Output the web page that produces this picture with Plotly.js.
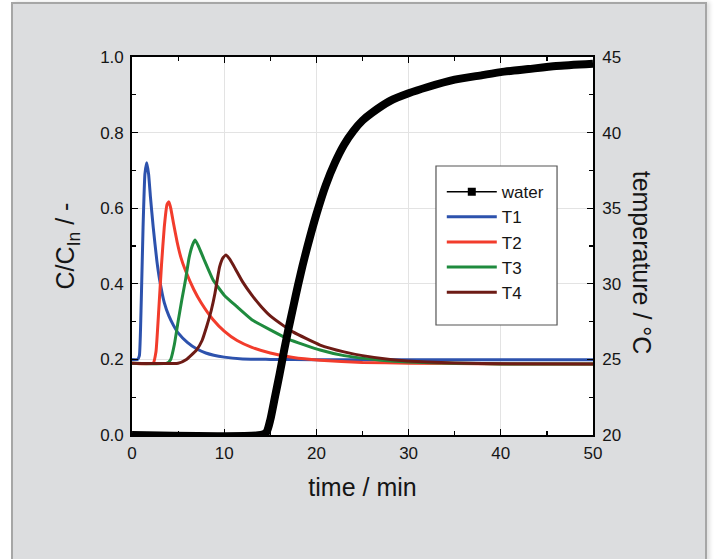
<!DOCTYPE html>
<html>
<head>
<meta charset="utf-8">
<script src="https://cdn.plot.ly/plotly-3.0.1.min.js"></script>
<style>
  html, body { margin: 0; padding: 0; background: #ffffff; width: 714px; height: 559px; overflow: hidden; }
  #frame { position: absolute; left: 11px; top: 2px; width: 692px; height: 570px;
           background: #dcdddf; border: 2px solid #a6a6a6; box-shadow: 3px 0 4px rgba(0,0,0,0.12); }
  #chart { position: absolute; left: 0; top: 0; width: 692px; height: 555px; }
</style>
</head>
<body>
<div id="frame"><div id="chart"></div></div>
<script>
// ---- data ----
const waterTime = [0, 14, 14.6, 15, 15.5, 16, 16.5, 17, 17.5, 18, 18.5, 19, 20, 21, 22, 23, 24, 25, 26, 28, 30, 32, 35, 38, 40, 43, 46, 50];
const waterTemp = [20, 20, 20.2, 21, 22.5, 24, 25.6, 27.1, 28.5, 29.9, 31.2, 32.4, 34.6, 36.5, 38.0, 39.2, 40.1, 40.8, 41.3, 42.1, 42.6, 43.0, 43.5, 43.8, 44.0, 44.2, 44.4, 44.55];

const t1Time = [0, 0.6, 0.8, 1.0, 1.2, 1.4, 1.6, 1.8, 2.0, 2.3, 2.7, 3.0, 3.5, 4.0, 4.5, 5.0, 6.0, 7.0, 8.0, 10, 12, 15, 20, 30, 40, 50];
const t1C    = [0.2, 0.2, 0.21, 0.35, 0.55, 0.69, 0.72, 0.69, 0.63, 0.55, 0.46, 0.41, 0.35, 0.315, 0.29, 0.27, 0.245, 0.228, 0.217, 0.206, 0.201, 0.2, 0.199, 0.199, 0.199, 0.199];

const t2Time = [0, 2.3, 2.6, 2.9, 3.2, 3.5, 3.8, 4.0, 4.2, 4.5, 4.9, 5.3, 5.8, 6.7, 7.5, 8.8, 10, 11.4, 13, 15, 17.5, 20.4, 25, 30, 40, 50];
const t2C    = [0.19, 0.19, 0.22, 0.33, 0.45, 0.55, 0.61, 0.617, 0.60, 0.56, 0.51, 0.47, 0.435, 0.385, 0.35, 0.305, 0.275, 0.25, 0.232, 0.217, 0.205, 0.198, 0.192, 0.19, 0.188, 0.188];

const t3Time = [0, 3.8, 4.2, 4.6, 5.0, 5.4, 5.8, 6.2, 6.6, 6.85, 7.2, 7.8, 8.8, 10, 11.35, 13, 15, 17, 20.4, 23, 27, 30, 35, 40, 50];
const t3C    = [0.19, 0.19, 0.2, 0.24, 0.3, 0.357, 0.41, 0.47, 0.505, 0.516, 0.5, 0.465, 0.41, 0.37, 0.34, 0.305, 0.278, 0.253, 0.225, 0.21, 0.198, 0.193, 0.19, 0.188, 0.188];

const t4Time = [0, 5.0, 5.9, 7.0, 7.6, 8.1, 8.6, 9.0, 9.5, 9.9, 10.2, 10.6, 11.2, 12, 13, 14, 15, 16.5, 17.5, 20.4, 23, 25, 28, 32, 38, 50];
const t4C    = [0.19, 0.19, 0.2, 0.225, 0.25, 0.287, 0.33, 0.375, 0.445, 0.47, 0.476, 0.465, 0.44, 0.405, 0.37, 0.34, 0.315, 0.288, 0.272, 0.238, 0.22, 0.21, 0.2, 0.193, 0.189, 0.188];

const seriesNames = ['water', 'T1', 'T2', 'T3', 'T4'];
const xTickVals = [0, 10, 20, 30, 40, 50];
const yTickVals = [0, 0.2, 0.4, 0.6, 0.8, 1.0];
const y2TickVals = [20, 25, 30, 35, 40, 45];

// ---- styles ----
const FONT = 'Liberation Sans, Arial, sans-serif';
const TXT = '#151515';
const colors = { T1: '#2d52ad', T2: '#f23c2c', T3: '#1f8b3e', T4: '#6d1b15' };

const traces = [
  { x: waterTime, y: waterTemp, yaxis: 'y2', mode: 'lines', line: { color: '#000', width: 8, shape: 'spline', smoothing: 0.6 },
    showlegend: false, hoverinfo: 'skip' },
  { x: [null], y: [null], yaxis: 'y2', mode: 'lines+markers', name: seriesNames[0],
    line: { color: '#000', width: 1.5 }, marker: { symbol: 'square', size: 8, color: '#000' } },
  { x: t1Time, y: t1C, mode: 'lines', name: seriesNames[1], line: { color: colors.T1, width: 3, shape: 'spline', smoothing: 0.4 } },
  { x: t2Time, y: t2C, mode: 'lines', name: seriesNames[2], line: { color: colors.T2, width: 3, shape: 'spline', smoothing: 0.4 } },
  { x: t3Time, y: t3C, mode: 'lines', name: seriesNames[3], line: { color: colors.T3, width: 3, shape: 'spline', smoothing: 0.4 } },
  { x: t4Time, y: t4C, mode: 'lines', name: seriesNames[4], line: { color: colors.T4, width: 3, shape: 'spline', smoothing: 0.4 } }
];

const axisCommon = {
  ticks: 'inside', ticklen: 6, tickwidth: 1.2, tickcolor: '#000',
  showline: true, linecolor: '#000', linewidth: 1.8, zeroline: false,
  tickfont: { family: FONT, size: 17, color: TXT }
};

const layout = {
  width: 692, height: 555,
  margin: { l: 119, r: 112, t: 53, b: 124, pad: 0 },
  paper_bgcolor: 'rgba(0,0,0,0)',
  plot_bgcolor: '#ffffff',
  font: { family: FONT, size: 17, color: TXT },
  xaxis: Object.assign({}, axisCommon, {
    range: [0, 50], tickvals: xTickVals, ticktext: xTickVals.map(String),
    minor: { dtick: 5, ticks: 'inside', ticklen: 4, tickcolor: '#000', showgrid: false },
    mirror: 'ticks', ticklabelstandoff: 2,
    showgrid: true, gridcolor: '#e3e3e3', gridwidth: 1,
    title: { text: 'time / min', font: { family: FONT, size: 25, color: TXT }, standoff: 16 }
  }),
  yaxis: Object.assign({}, axisCommon, {
    range: [0, 1], tickvals: yTickVals, ticktext: yTickVals.map(v => v.toFixed(1)),
    minor: { dtick: 0.1, ticks: 'inside', ticklen: 4, tickcolor: '#000', showgrid: false },
    ticklabelstandoff: 3,
    showgrid: true, gridcolor: '#e3e3e3', gridwidth: 1,
    title: { text: 'C/C<sub>In</sub> / -', font: { family: FONT, size: 25, color: TXT }, standoff: 18 }
  }),
  yaxis2: Object.assign({}, axisCommon, {
    overlaying: 'y', side: 'right', range: [20, 45], tickvals: y2TickVals, ticktext: y2TickVals.map(String),
    minor: { dtick: 2.5, ticks: 'inside', ticklen: 4, tickcolor: '#000', showgrid: false },
    ticklabelstandoff: 4, showgrid: false
  }),
  legend: {
    x: 0.672, y: 0.69, xanchor: 'left', yanchor: 'top',
    bgcolor: 'rgba(0,0,0,0)', borderwidth: 0,
    font: { family: FONT, size: 17, color: TXT },
    itemwidth: 50, tracegroupgap: 0
  },
  shapes: [{
    type: 'rect', xref: 'paper', yref: 'paper', x0: 0.6594, x1: 0.922, y0: 0.291, y1: 0.7116,
    fillcolor: '#ffffff', line: { color: '#555555', width: 1.2 }, layer: 'above'
  }],
  annotations: [{
    text: 'temperature / °C', xref: 'paper', yref: 'paper', x: 1.107, y: 0.455,
    xanchor: 'center', yanchor: 'middle', textangle: 90, showarrow: false,
    font: { family: FONT, size: 25, color: TXT }
  }]
};

Plotly.newPlot('chart', traces, layout, { staticPlot: true, displayModeBar: false });
</script>
</body>
</html>
